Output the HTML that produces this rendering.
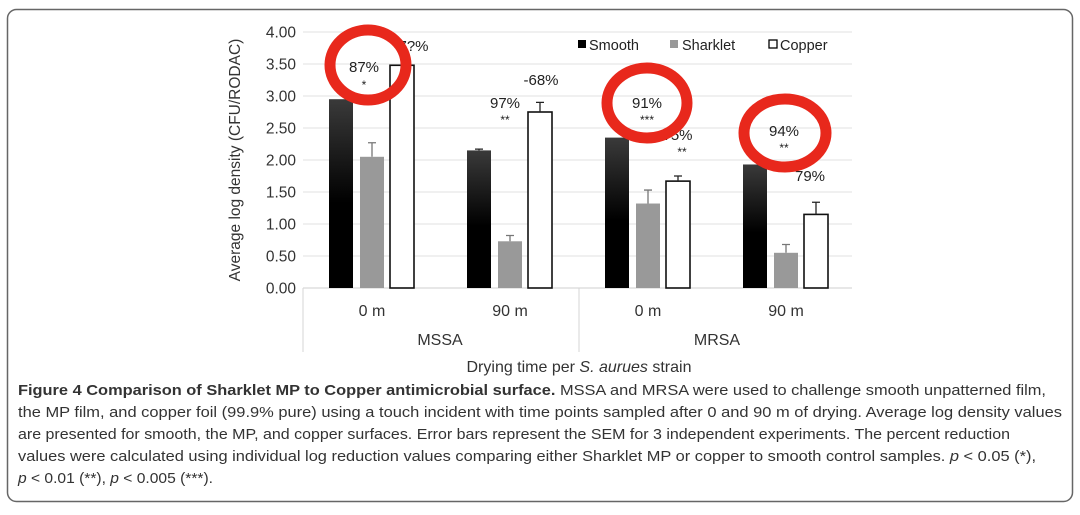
<!DOCTYPE html>
<html><head><meta charset="utf-8"><style>
html,body{margin:0;padding:0;background:#fff;}
svg{display:block;font-family:"Liberation Sans",sans-serif;}
</style></head><body>
<svg id="fig" width="1080" height="515" viewBox="0 0 1080 515">
<defs>
<linearGradient id="blk" x1="0" y1="0" x2="0" y2="1">
<stop offset="0" stop-color="#3a3a3a"/><stop offset="0.55" stop-color="#000"/><stop offset="1" stop-color="#000"/>
</linearGradient>
</defs>
<rect x="7.5" y="9.5" width="1065" height="492" rx="9" fill="#fff" stroke="#666" stroke-width="1.5"/>
<g id="grid"></g>
<g id="yticks"></g>
<text transform="translate(240,160) rotate(-90)" text-anchor="middle" font-size="15.5" fill="#333">Average log density (CFU/RODAC)</text>
<g id="bars"></g>
<g id="cats"></g>
<line x1="303" y1="288" x2="303" y2="352" stroke="#d6d6d6"/>
<line x1="579" y1="288" x2="579" y2="352" stroke="#d6d6d6"/>
<text x="440" y="345" text-anchor="middle" font-size="16" fill="#333">MSSA</text>
<text x="717" y="345" text-anchor="middle" font-size="16" fill="#333">MRSA</text>
<text x="579" y="372" text-anchor="middle" font-size="16" fill="#333">Drying time per <tspan font-style="italic">S. aurues</tspan> strain</text>
<g>
<rect x="578" y="40" width="8" height="8" fill="#000"/>
<text x="589" y="50" font-size="14.5" fill="#222">Smooth</text>
<rect x="670" y="40" width="8" height="8" fill="#999"/>
<text x="682" y="50" font-size="14.5" fill="#222">Sharklet</text>
<rect x="769" y="40" width="8" height="8" fill="#fff" stroke="#000" stroke-width="1.3"/>
<text x="780" y="50" font-size="14.5" fill="#222">Copper</text>
</g>
<g font-size="15" fill="#222" text-anchor="middle">
<text x="411" y="51">-7?%</text>
<text x="541" y="85">-68%</text>
<text x="505" y="108">97%</text>
<text x="505" y="124" font-size="12">**</text>
<text x="675" y="140">-?5%</text>
<text x="682" y="156" font-size="12">**</text>
<text x="810" y="181">79%</text>
</g>
<g fill="none" stroke="#e8281c" stroke-width="11">
<ellipse cx="368" cy="65" rx="38" ry="35"/>
<ellipse cx="647" cy="103" rx="40" ry="35"/>
<ellipse cx="785" cy="133" rx="41" ry="34"/>
</g>
<g font-size="15" fill="#222" text-anchor="middle">
<text x="364" y="72">87%</text>
<text x="364" y="89" font-size="12">*</text>
<text x="647" y="108">91%</text>
<text x="647" y="124" font-size="12">***</text>
<text x="784" y="136">94%</text>
<text x="784" y="152" font-size="12">**</text>
</g>
<g font-size="14.6" fill="#333">
<text x="18" y="395" textLength="1028" lengthAdjust="spacingAndGlyphs"><tspan font-weight="bold">Figure 4 Comparison of Sharklet MP to Copper antimicrobial surface.</tspan> MSSA and MRSA were used to challenge smooth unpatterned film,</text>
<text x="18" y="417" textLength="1044" lengthAdjust="spacingAndGlyphs">the MP film, and copper foil (99.9% pure) using a touch incident with time points sampled after 0 and 90 m of drying. Average log density values</text>
<text x="18" y="439" textLength="992" lengthAdjust="spacingAndGlyphs">are presented for smooth, the MP, and copper surfaces. Error bars represent the SEM for 3 independent experiments. The percent reduction</text>
<text x="18" y="461" textLength="1018" lengthAdjust="spacingAndGlyphs">values were calculated using individual log reduction values comparing either Sharklet MP or copper to smooth control samples. <tspan font-style="italic">p</tspan> &lt; 0.05 (*),</text>
<text x="18" y="483" textLength="195" lengthAdjust="spacingAndGlyphs"><tspan font-style="italic">p</tspan> &lt; 0.01 (**), <tspan font-style="italic">p</tspan> &lt; 0.005 (***).</text>
</g>
</svg>
<script>
const categories = ["0 m","90 m","0 m","90 m"];
const smooth = [2.95, 2.15, 2.35, 1.93];
const sharklet = [2.05, 0.73, 1.32, 0.55];
const copper = [3.48, 2.75, 1.67, 1.15];
const sharkletErr = [0.22, 0.09, 0.21, 0.13];
const copperErr = [0.0, 0.15, 0.08, 0.19];
const smoothErr = [0.0, 0.02, 0.0, 0.0];
const yTicks = [0,0.5,1,1.5,2,2.5,3,3.5,4];

const NS="http://www.w3.org/2000/svg";
const X0=303, X1=855, Y0=288, Y1=32, YMAX=4;
const yS=v=>Y0-(v/YMAX)*(Y0-Y1);
const band=(X1-X0)/categories.length;
const xC=i=>X0+band*(i+0.5);
function mk(tag,attrs,parent){const e=document.createElementNS(NS,tag);for(const k in attrs)e.setAttribute(k,attrs[k]);parent.appendChild(e);return e;}
const grid=document.getElementById('grid'), yt=document.getElementById('yticks');
yTicks.forEach(t=>{
  const l=mk('line',{x1:X0,x2:X1-3,y1:yS(t),y2:yS(t),stroke:t===0?'#cfcfcf':'#e2e2e2','stroke-width':1},grid);
  
  
  const tx=mk('text',{x:296,y:yS(t)+5.5,'text-anchor':'end','font-size':15.5,fill:'#333'},yt);
  tx.textContent=t.toFixed(2);
  
  
});
const bars=document.getElementById('bars'), cats=document.getElementById('cats');
const BW=24, offs=[-31,0,30];
const series=[[smooth,smoothErr,'url(#blk)','none','bar-smooth'],[sharklet,sharkletErr,'#999','none','bar-sharklet'],[copper,copperErr,'#fff','#111','bar-copper']];
categories.forEach((c,i)=>{
  series.forEach((s,j)=>{
    const v=s[0][i], e=s[1][i], cx=xC(i)+offs[j];
    const r=mk('rect',{x:cx-BW/2,y:yS(v),width:BW,height:yS(0)-yS(v),fill:s[2],stroke:s[3],'stroke-width':1.6},bars);
    
    
    if(e>0){
      const g=mk('path',{d:`M${cx} ${yS(v)} V${yS(v+e)} M${cx-4} ${yS(v+e)} H${cx+4}`,stroke:j===1?'#777':'#222','stroke-width':1.3,fill:'none'},bars);
      
      
    }
  });
  const t=mk('text',{x:xC(i),y:316,'text-anchor':'middle','font-size':16,fill:'#333'},cats);
  t.textContent=c;
  
  
});
</script>
</body></html>
